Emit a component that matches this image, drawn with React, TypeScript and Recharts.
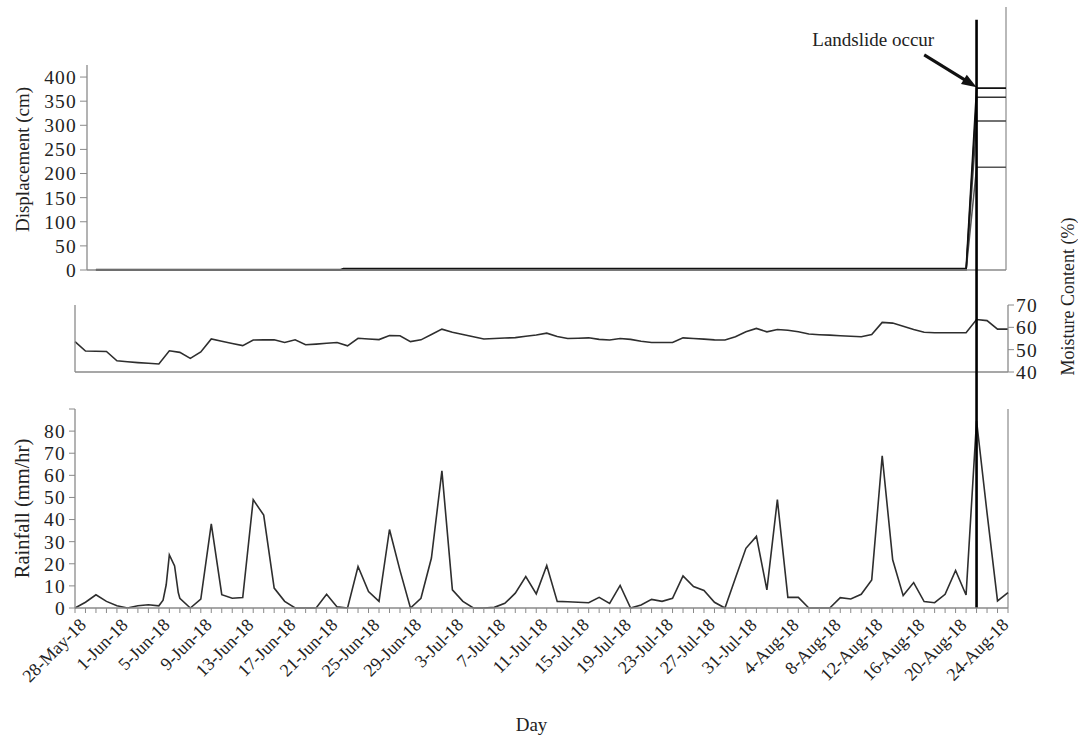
import React from 'react';
import { LineChart, Line, XAxis, YAxis, ReferenceLine } from 'recharts';

// ---------- data ----------
// day index 0 = 28-May-18
const DAYS = [
  0, 1, 2, 3, 4, 5, 6, 7, 8, 9, 10, 11, 12, 13, 14, 15, 16, 17, 18, 19,
  20, 21, 22, 23, 24, 25, 26, 27, 28, 29, 30, 31, 32, 33, 34, 35, 36, 37, 38, 39,
  40, 41, 42, 43, 44, 45, 46, 47, 48, 49, 50, 51, 52, 53, 54, 55, 56, 57, 58, 59,
  60, 61, 62, 63, 64, 65, 66, 67, 68, 69, 70, 71, 72, 73, 74, 75, 76, 77, 78, 79,
  80, 81, 82, 83, 84, 85, 86, 87, 88, 89,
];

const TICK_LABELS = [
  '28-May-18', '1-Jun-18', '5-Jun-18', '9-Jun-18', '13-Jun-18', '17-Jun-18',
  '21-Jun-18', '25-Jun-18', '29-Jun-18', '3-Jul-18', '7-Jul-18', '11-Jul-18',
  '15-Jul-18', '19-Jul-18', '23-Jul-18', '27-Jul-18', '31-Jul-18', '4-Aug-18',
  '8-Aug-18', '12-Aug-18', '16-Aug-18', '20-Aug-18', '24-Aug-18',
];
const LABEL_EVERY = 4;
const LANDSLIDE_DAY = 86;

// rainfall samples (a few sub-daily readings around 5/6-Jun)
const RAIN_T = [
  0, 1, 2, 3, 4, 5, 6, 7, 8, 8.4, 8.7, 9, 9.5, 9.85,
  10, 11, 12, 13, 14, 15, 16, 17, 18, 19,
  20, 21, 22, 23, 24, 25, 26, 27, 28, 29,
  30, 31, 32, 33, 34, 35, 36, 37, 38, 39,
  40, 41, 42, 43, 44, 45, 46, 47, 48, 49,
  50, 51, 52, 53, 54, 55, 56, 57, 58, 59,
  60, 61, 62, 63, 64, 65, 66, 67, 68, 69,
  70, 71, 72, 73, 74, 75, 76, 77, 78, 79,
  80, 81, 82, 83, 84, 85, 86, 87, 88, 89,
];
const RAIN = [
  0, 2.6, 6, 3, 1, 0, 1, 1.5, 1, 3.5, 10.5, 24, 19, 7,
  4.4, 0, 4, 38, 6, 4.4, 4.7, 49, 42, 9,
  3, 0, 0, 0, 6.2, 0.5, 0, 18.8, 7.4, 3,
  35.5, 17, 0, 4.4, 22.6, 62, 8.2, 3, 0, 0,
  0.3, 2.1, 6.7, 14.2, 6.4, 19.2, 3, 2.8, 2.6, 2.4,
  4.8, 2.1, 10.2, 0, 1.4, 3.9, 3, 4.4, 14.5, 9.7,
  7.9, 2.6, 0, 13.6, 27, 32.4, 8.2, 49, 4.8, 4.8,
  0, 0, 0, 4.7, 4.1, 6.2, 12.7, 68.8, 21.8, 5.6,
  11.5, 2.9, 2.4, 6.2, 17, 5.9, 84.7, 43, 3.2, 7,
];

const MOISTURE = [
  53.6, 49.4, 49.3, 49.2, 45, 44.6, 44.2, 43.9, 43.6, 49.5,
  48.8, 46.1, 49, 54.8, 53.8, 52.8, 51.8, 54.3, 54.4, 54.4,
  53.2, 54.4, 52.2, 52.5, 52.9, 53.2, 51.7, 55.1, 54.8, 54.5,
  56.3, 56.2, 53.6, 54.4, 56.8, 59.2, 57.8, 56.8, 55.8, 54.8,
  55, 55.2, 55.4, 56, 56.6, 57.4, 55.9, 55, 55.1, 55.3,
  54.6, 54.3, 55, 54.6, 53.8, 53.2, 53.2, 53.2, 55.3, 55,
  54.7, 54.4, 54.3, 55.8, 58, 59.5, 58, 59, 58.7, 58,
  57, 56.7, 56.5, 56.2, 56, 55.8, 56.8, 62.2, 61.9, 60.5,
  59, 57.8, 57.6, 57.6, 57.6, 57.6, 63.5, 63, 59.2, 59.2,
];

const DISP_T = [2, 25.3, 25.6, 85, 86, 89];
const DISP_A = [0, 0, 3, 3, 377, 377];
const DISP_B = [0, 0, 0, 0, 358, 358];
const DISP_C = [1, 1, 1, 1, 309, 309];
const DISP_D = [0.5, 0.5, 0.5, 0.5, 213, 213];

const DISP_TICKS = [0, 50, 100, 150, 200, 250, 300, 350, 400];
const MOIST_TICKS = [40, 50, 60, 70];
const RAIN_TICKS = [0, 10, 20, 30, 40, 50, 60, 70, 80, 90];

// ---------- derived tables ----------
const rainData = RAIN_T.map((t, i) => ({ t, v: RAIN[i] }));
const moistData = DAYS.map((t, i) => ({ t, v: MOISTURE[i] }));
const dispData = DISP_T.map((t, i) => ({ t, a: DISP_A[i], b: DISP_B[i], c: DISP_C[i], d: DISP_D[i] }));

// ---------- styles ----------
const W = 1078;
const H = 738;
const FONT = '"Liberation Serif", "Times New Roman", Times, serif';
const AXIS = '#8a8a8a';
const INK = '#2e2e2e';
const TEXT = '#222';
const TICK_FONT = 19.5;
const tickStyle = { fontSize: TICK_FONT, fill: TEXT, letterSpacing: 1.2 };

const layer: React.CSSProperties = { position: 'absolute', left: 0, top: 0, width: W, height: H };

const vTitle = (text: string, dx: number, dy: number, size: number) => (props: any) => {
  const vb = props.viewBox || {};
  const cx = vb.x + dx;
  const cy = vb.y + vb.height / 2 + dy;
  return (
    <text x={cx} y={cy} transform={`rotate(-90 ${cx} ${cy})`} textAnchor="middle"
      dominantBaseline="central" fontSize={size} fill={TEXT}>{text}</text>
  );
};

const dayTitle = (props: any) => {
  const vb = props.viewBox || {};
  const cx = vb.x + vb.width / 2 - 10;
  const cy = vb.y + vb.height - 2;
  return <text x={cx} y={cy} textAnchor="middle" fontSize={19} fill={TEXT}>Day</text>;
};

const RainTick = (props: any) => {
  const { x, y, payload } = props;
  const day = payload.value;
  if (day % LABEL_EVERY !== 0) return <g />;
  const label = TICK_LABELS[day / LABEL_EVERY];
  if (!label) return <g />;
  const ax = x + 12;
  const ay = y + 11;
  return (
    <text x={ax} y={ay} textAnchor="end" transform={`rotate(-45 ${ax} ${ay})`}
      fontSize={18} fill={TEXT}>{label}</text>
  );
};

const Empty = () => <g />;

const ArrowShape = (props: any) => {
  const { x1, y1, x2, y2 } = props;
  const dx = x2 - x1;
  const dy = y2 - y1;
  const len = Math.sqrt(dx * dx + dy * dy) || 1;
  const ux = dx / len;
  const uy = dy / len;
  const hl = 15;
  const hw = 5.5;
  const bx = x2 - ux * hl;
  const by = y2 - uy * hl;
  const pts = `${x2},${y2} ${bx - uy * hw},${by + ux * hw} ${bx + uy * hw},${by - ux * hw}`;
  return (
    <g>
      <line x1={x1} y1={y1} x2={bx + ux * 2} y2={by + uy * 2} stroke="#111" strokeWidth={3} />
      <polygon points={pts} fill="#111" />
      <text x={x1 + 10} y={y1 - 9} textAnchor="end" fontSize={19} fill={TEXT}>Landslide occur</text>
    </g>
  );
};

export default function App() {
  return (
    <div style={{ position: 'absolute', left: 0, top: 0, width: W, height: H, background: '#fff', fontFamily: FONT }}>
      {/* Displacement */}
      <div style={layer}>
        <LineChart width={W} height={H} data={dispData} margin={{ top: 65, right: 72, bottom: 467, left: 15 }}>
          <XAxis dataKey="t" type="number" domain={[1.15, 88.8]} allowDataOverflow height={1}
            tick={false} tickLine={false} axisLine={{ stroke: AXIS, strokeWidth: 1.3 }} />
          <YAxis type="number" domain={[0, 425]} ticks={DISP_TICKS} width={72} interval={0}
            tickSize={7} tickMargin={3} axisLine={{ stroke: AXIS, strokeWidth: 1.3 }}
            tickLine={{ stroke: AXIS }} tick={tickStyle}
            label={{ content: vTitle('Displacement (cm)', 7, -8, 19) }} />
          <ReferenceLine segment={[{ x: 88.8, y: 0 }, { x: 88.8, y: 545 }]} ifOverflow="visible"
            stroke={AXIS} strokeWidth={1.2} />
          <Line dataKey="d" stroke="#555" strokeWidth={1.5} dot={false} isAnimationActive={false} />
          <Line dataKey="c" stroke="#444" strokeWidth={1.5} dot={false} isAnimationActive={false} />
          <Line dataKey="b" stroke="#333" strokeWidth={1.5} dot={false} isAnimationActive={false} />
          <Line dataKey="a" stroke="#111" strokeWidth={1.7} dot={false} isAnimationActive={false} />
          <ReferenceLine segment={[{ x: 81, y: 446 }, { x: LANDSLIDE_DAY, y: 379 }]} ifOverflow="visible"
            shape={ArrowShape} />
        </LineChart>
      </div>

      {/* Moisture content */}
      <div style={layer}>
        <LineChart width={W} height={H} data={moistData} margin={{ top: 305, right: 0, bottom: 365, left: 15 }}>
          <XAxis dataKey="t" type="number" domain={[0, 89]} height={1}
            tick={false} tickLine={false} axisLine={{ stroke: AXIS, strokeWidth: 1.3 }} />
          <YAxis yAxisId="left" orientation="left" type="number" domain={[40, 70]} ticks={[40, 70]} width={60}
            tickSize={5} axisLine={{ stroke: AXIS, strokeWidth: 1.3 }} tickLine={{ stroke: AXIS }} tick={Empty} />
          <YAxis yAxisId="right" orientation="right" type="number" domain={[40, 70]} ticks={MOIST_TICKS} width={70}
            interval={0} tickSize={6} tickMargin={2} axisLine={{ stroke: AXIS, strokeWidth: 1.3 }}
            tickLine={{ stroke: AXIS }} tick={tickStyle}
            label={{ content: vTitle('Moisture Content (%)', 60, -42, 18) }} />
          <Line yAxisId="right" dataKey="v" stroke={INK} strokeWidth={1.6} dot={false} isAnimationActive={false} />
        </LineChart>
      </div>

      {/* Rainfall */}
      <div style={layer}>
        <LineChart width={W} height={H} data={rainData} margin={{ top: 409, right: 70, bottom: 5, left: 15 }}>
          <XAxis dataKey="t" type="number" domain={[0, 89]} ticks={DAYS} interval={0} height={125}
            tickSize={5} tickMargin={2} axisLine={{ stroke: AXIS, strokeWidth: 1.3 }}
            tickLine={{ stroke: AXIS }} tick={RainTick}
            label={{ content: dayTitle }} />
          <YAxis type="number" domain={[0, 90]} ticks={RAIN_TICKS} width={60} interval={0}
            tickSize={6} tickMargin={3} axisLine={{ stroke: AXIS, strokeWidth: 1.3 }}
            tickLine={{ stroke: AXIS }} tick={tickStyle}
            tickFormatter={(v: number) => (v === 90 ? '' : String(v))}
            label={{ content: vTitle('Rainfall (mm/hr)', 7, 0, 20.5) }} />
          <ReferenceLine x={89} stroke={AXIS} strokeWidth={1.2} />
          <Line dataKey="v" stroke={INK} strokeWidth={1.6} dot={false} isAnimationActive={false} />
          <ReferenceLine segment={[{ x: LANDSLIDE_DAY, y: 0 }, { x: LANDSLIDE_DAY, y: 266 }]} ifOverflow="visible"
            stroke="#000" strokeWidth={2.6} />
        </LineChart>
      </div>
    </div>
  );
}
